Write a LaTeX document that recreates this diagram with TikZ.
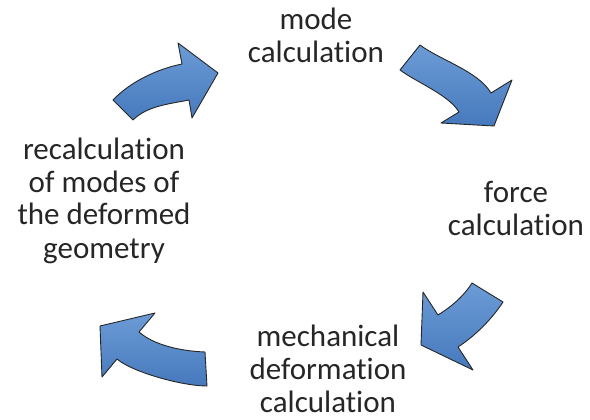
\documentclass[tikz,border=0pt]{standalone}
\usepackage{fontspec}
\setmainfont{Carlito}[Ligatures={NoCommon}]
\usepackage{tikz}
\usetikzlibrary{positioning}
\definecolor{arrowlight}{HTML}{6C9CD6}
\definecolor{arrowdark}{HTML}{4679BD}
\tikzset{
  steplabel/.style={font=\fontsize{31}{33}\selectfont, align=center, anchor=base, inner sep=0pt, text=black!85},
  blockarrow/.style={draw=black!85, line width=0.9pt, line join=round, top color=arrowlight, bottom color=arrowdark}
}

\begin{document}
\begin{tikzpicture}[x=1pt, y=-1pt]
\useasboundingbox (0,0) rectangle (590,420);
% step labels (placed at the baseline of their last line)
\node[steplabel] (mode) at (316,63) {mode\\calculation};
\node[steplabel] (force) at (516,235) {force\\calculation};
\node[steplabel] (mech) at (328,412) {mechanical\\deformation\\calculation};
\node[steplabel] (recalc) at (104,258) {recalculation\\of modes of\\the deformed\\geometry};
% arrow: recalculation -> mode
\draw[blockarrow] (113,100) .. controls (130,82) and (157,69) .. (182,64)
  -- (178,43) -- (218,73) -- (192,118) -- (189,100)
  .. controls (169,104) and (147,106) .. (133,120) -- cycle;
% arrow: mode -> force
\draw[blockarrow] (420,45) .. controls (440,60) and (478,71) .. (491,93)
  -- (512,80) -- (494,126) -- (441,123) -- (459,112)
  .. controls (449,95) and (416,82) .. (400,70) -- cycle;
% arrow: force -> mechanical
\draw[blockarrow] (472,283) .. controls (464,296) and (451,307) .. (438,315)
  -- (423,292) -- (421,345) -- (473,370) -- (458,347)
  .. controls (475,336) and (492,319) .. (503,302) -- cycle;
% arrow: mechanical -> recalculation
\draw[blockarrow] (205,352) .. controls (180,351) and (154,345) .. (139,332)
  -- (155,313) -- (100,326) -- (102,377) -- (117,359)
  .. controls (132,372) and (182,386) .. (207,386) -- cycle;
\end{tikzpicture}
\end{document}
